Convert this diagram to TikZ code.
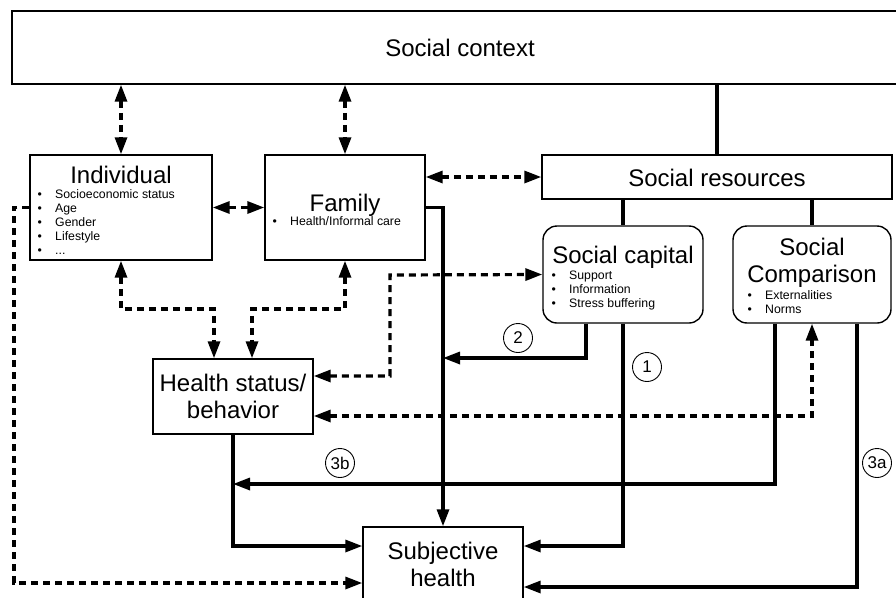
\documentclass[tikz,border=0pt]{standalone}
\usepackage{fontspec}
\setmainfont{Liberation Sans}
\usetikzlibrary{arrows.meta}

\newcommand{\bpt}[1]{\makebox[17.5pt][l]{•}#1}

\begin{document}
\begin{tikzpicture}[
                x=1pt, y=-1pt,
                box/.style={draw,line width=1.4pt,inner sep=0pt},
                rbox/.style={box,rounded corners=14pt},
                ttl/.style={font=\fontsize{24}{27}\selectfont,align=center,inner sep=0pt,anchor=base},
                blist/.style={font=\fontsize{12.3}{14}\selectfont,align=left,inner sep=0pt,anchor=base west},
                num/.style={circle,draw,line width=0.9pt,minimum size=29pt,inner sep=0pt,font=\fontsize{17}{17}\selectfont},
                link/.style={line width=3.2pt,-{Triangle[length=17pt,width=12pt]}},
                plain/.style={line width=3.2pt},
                dlink/.style={line width=3.2pt,dash pattern=on 7pt off 5pt,{Triangle[length=17pt,width=12pt]}-{Triangle[length=17pt,width=12pt]}},
                dline/.style={line width=3.2pt,dash pattern=on 7pt off 5pt,-{Triangle[length=17pt,width=12pt]}}
            ]
                \useasboundingbox (0,0) rectangle (896,597);
                % Boxes
                \node[box,minimum width=888pt,minimum height=73pt]  (ctx)  at (456,47.5) {};
                \node[box,minimum width=182pt,minimum height=105pt] (ind)  at (121,207.5) {};
                \node[box,minimum width=160pt,minimum height=105pt] (fam)  at (345,207.5) {};
                \node[box,minimum width=350pt,minimum height=44pt]  (res)  at (717,177) {};
                \node[rbox,minimum width=160pt,minimum height=97pt] (cap)  at (623,274.5) {};
                \node[rbox,minimum width=158pt,minimum height=97pt] (cmp)  at (812,274.5) {};
                \node[box,minimum width=160pt,minimum height=75pt]  (hlt)  at (233,396.5) {};
                \node[box,minimum width=160pt,minimum height=80pt]  (subj) at (443,567) {};
                % Titles (base = last line)
                \node[ttl] (ctx-t)  at (460,56)  {Social context};
                \node[ttl] (ind-t)  at (121,183) {Individual};
                \node[ttl] (fam-t)  at (345,211) {Family};
                \node[ttl] (res-t)  at (717,186) {Social resources};
                \node[ttl] (cap-t)  at (623,263) {Social capital};
                \node[ttl] (cmp-t)  at (812,282) {Social\\Comparison};
                \node[ttl] (hlt-t)  at (233,418) {Health status/\\behavior};
                \node[ttl] (subj-t) at (443,586) {Subjective\\health};
                % Bullet lists
                \node[blist] (ind-l) at (37.5,254)  {\bpt{Socioeconomic status}\\\bpt{Age}\\\bpt{Gender}\\\bpt{Lifestyle}\\\bpt{...}};
                \node[blist] (fam-l) at (272.5,225) {\bpt{Health/Informal care}};
                \node[blist] (cap-l) at (551.5,307) {\bpt{Support}\\\bpt{Information}\\\bpt{Stress buffering}};
                \node[blist] (cmp-l) at (747.5,313.5) {\bpt{Externalities}\\\bpt{Norms}};
                % Bend points
                \coordinate (kL)  at (214,309);
                \coordinate (kR)  at (252,309);
                \coordinate (kC)  at (390,275);
                \coordinate (k2)  at (443,358);
                \coordinate (k3b) at (233,484);
                \coordinate (kI)  at (14,583);
                % Context links
                \draw[dlink] (ind.north |- ctx.south) -- (ind.north);
                \draw[dlink] (fam.north |- ctx.south) -- (fam.north);
                \draw[plain] (ctx.south -| res.north) -- (res.north);
                \draw[plain] (res.south -| cap.north) -- (cap.north);
                \draw[plain] (res.south -| cmp.north) -- (cmp.north);
                \draw[dlink] (ind.east) -- (fam.west);
                \draw[dlink] (fam.east |- res.west) -- (res.west);
                % Health status/behavior links
                \draw[dlink] (ind.south) |- (kL) -- (kL |- hlt.north);
                \draw[dlink] (fam.south) |- (kR) -- (kR |- hlt.north);
                \draw[dlink] ([yshift=20.5pt]hlt.east) -| (kC) -- (cap.west);
                \draw[dlink] ([yshift=-19.5pt]hlt.east) -| (cmp.south);
                % Paths to subjective health
                \draw[link] (fam.east) -| (subj.north);
                \draw[link] ([xshift=-37pt]cap.south) |- (k2);
                \draw[link] (cap.south) |- ([yshift=21pt]subj.east);
                \draw[link] ([xshift=-37pt]cmp.south) |- (k3b);
                \draw[link] (hlt.south) |- ([yshift=21pt]subj.west);
                \draw[link] ([xshift=45pt]cmp.south) |- ([yshift=-20pt]subj.east);
                \draw[dline] (ind.west) -| (kI) -- (kI -| subj.west);
                % Path numbers
                \node[num] (n1)  at (647,367) {1};
                \node[num] (n2)  at (518,338) {2};
                \node[num] (n3a) at (877,463) {3a};
                \node[num] (n3b) at (340,463) {3b};
            \end{tikzpicture}
\end{document}
